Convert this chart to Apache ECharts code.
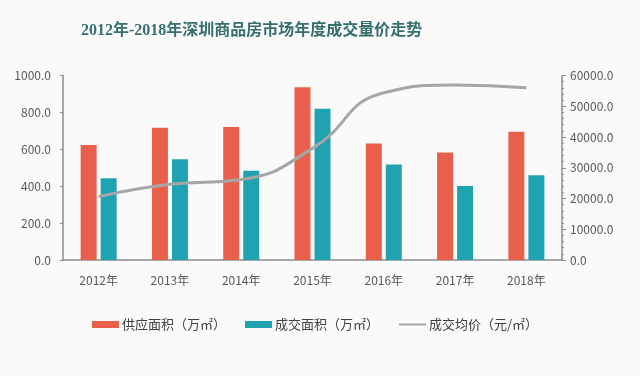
<!DOCTYPE html>
<html>
<head>
<meta charset="utf-8">
<script src="https://cdn.jsdelivr.net/npm/echarts@6/dist/echarts.min.js"></script>
<style>
html,body{margin:0;padding:0;background:#fafafa;}
#chart{width:640px;height:376px;}
</style>
</head>
<body>
<div id="chart"></div>
<script>
var titleText = '2012年-2018年深圳商品房市场年度成交量价走势';
var categories = ['2012年','2013年','2014年','2015年','2016年','2017年','2018年'];
var supplyArea = [623, 717, 721, 936, 632, 582, 695];
var dealArea = [443, 546, 484, 820, 517, 401, 459];
var avgPrice = [20600, 24600, 26200, 36300, 54400, 56900, 56000];
var seriesNames = ['供应面积（万㎡）','成交面积（万㎡）','成交均价（元/㎡）'];

var chart = echarts.init(document.getElementById('chart'), null, {renderer:'canvas'});
var labelFont = "'Noto Sans CJK SC', 'Noto Sans', sans-serif";
chart.setOption({
  backgroundColor: '#fafafa',
  animation: false,
  title: {
    text: titleText,
    left: 76,
    top: 18,
    textStyle: {
      fontFamily: "'Liberation Serif', 'Noto Sans CJK SC', serif",
      fontSize: 16,
      fontWeight: 'bold',
      color: '#356f70'
    }
  },
  legend: {
    left: 92,
    top: 318,
    padding: 0,
    itemWidth: 27,
    itemHeight: 7,
    itemGap: 19,
    textStyle: { fontFamily: labelFont, fontSize: 13, color: '#404040', padding: [0,0,0,-2] },
    data: [
      { name: seriesNames[0], icon: 'rect' },
      { name: seriesNames[1], icon: 'rect' },
      { name: seriesNames[2], itemStyle: { opacity: 0 } }
    ]
  },
  grid: { left: 63, right: 78, top: 75.5, bottom: 116, containLabel: false },
  xAxis: {
    type: 'category',
    data: categories,
    axisLine: { lineStyle: { color: '#8c8c8c', width: 1.5 } },
    axisTick: { show: false },
    axisLabel: { fontFamily: labelFont, fontSize: 12, color: '#595959', margin: 14 }
  },
  yAxis: [
    {
      type: 'value', min: 0, max: 1000, interval: 200,
      axisLine: { show: true, lineStyle: { color: '#8c8c8c', width: 1.5 } },
      axisTick: { show: true, inside: false, length: 3, lineStyle: { color: '#8c8c8c' } },
      splitLine: { show: false },
      axisLabel: { fontFamily: labelFont, fontSize: 12, color: '#595959', margin: 12,
        formatter: function(v){ return v.toFixed(1); } }
    },
    {
      type: 'value', min: 0, max: 60000, interval: 10000, position: 'right',
      axisLine: { show: true, lineStyle: { color: '#8c8c8c', width: 1.5 } },
      axisTick: { show: true, length: 4, lineStyle: { color: '#8c8c8c' } },
      minorTick: { show: true, splitNumber: 5, length: 2, lineStyle: { color: '#8c8c8c' } },
      splitLine: { show: false },
      axisLabel: { fontFamily: labelFont, fontSize: 12, color: '#595959', margin: 8,
        formatter: function(v){ return v.toFixed(1); } }
    }
  ],
  series: [
    { name: seriesNames[0], type: 'bar', data: supplyArea, barWidth: 16, barGap: '25%',
      itemStyle: { color: '#e8604c' } },
    { name: seriesNames[1], type: 'bar', data: dealArea, barWidth: 16,
      itemStyle: { color: '#20a3b1' } },
    { name: seriesNames[2], type: 'line', yAxisIndex: 1, data: avgPrice, smooth: true,
      symbol: 'none', lineStyle: { color: '#a6a6a6', width: 3 }, itemStyle: { color: '#a6a6a6' } }
  ]
});
</script>
</body>
</html>
